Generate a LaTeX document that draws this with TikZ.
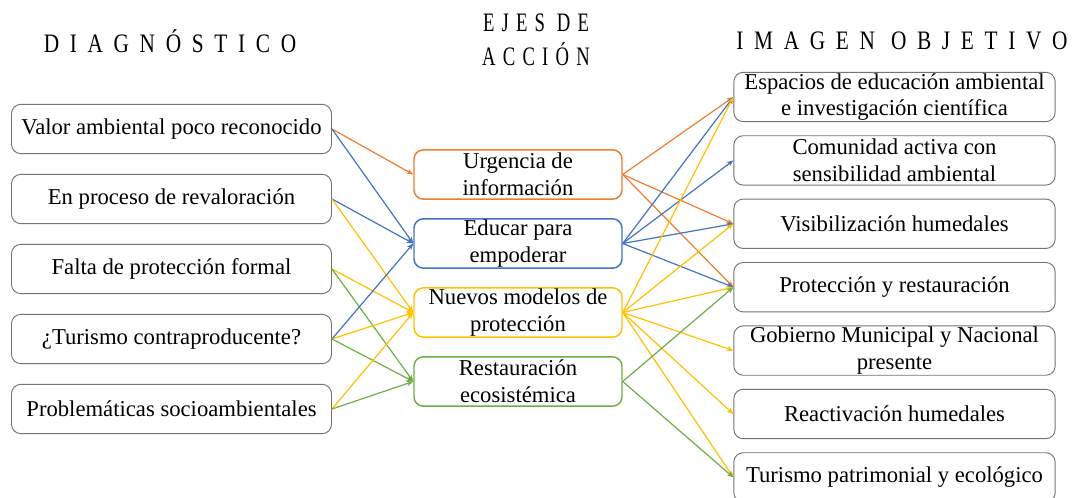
\documentclass[tikz,border=0pt]{standalone}
\usepackage{fontspec}
\setmainfont{Liberation Serif}
\newfontfamily\headfont[LetterSpace=40,FakeStretch=0.8]{Liberation Serif}
\newfontfamily\ejefont[LetterSpace=27,FakeStretch=0.7]{Liberation Serif}
\usetikzlibrary{arrows.meta}
\definecolor{naranja}{RGB}{237,125,49}
\definecolor{azul}{RGB}{68,114,196}
\definecolor{amarillo}{RGB}{255,192,0}
\definecolor{verde}{RGB}{112,173,71}
\begin{document}
\begin{tikzpicture}[x=0.75pt,y=-0.75pt,
	caja/.style={draw=black!55,line width=0.7pt,rounded corners=7pt,align=center,
		inner sep=0pt,font=\fontsize{17}{20}\selectfont},
	diag/.style={caja,minimum width=240pt,minimum height=37pt},
	eje/.style={caja,line width=1.1pt,minimum width=156pt,minimum height=37pt},
	meta/.style={caja,minimum width=241pt,minimum height=37pt},
	titulo/.style={align=center,font=\headfont\fontsize{20}{25.5}\selectfont},
	flecha/.style={line width=0.9pt,-{Stealth[length=5pt,width=4pt]}}]
	\useasboundingbox (0,0) rectangle (1077,498);
	% titulos
	\node[titulo] (T1) at (170,41) {DIAGNÓSTICO};
	\node[titulo] (T2) at (536,40) {\ejefont EJES DE\\\ejefont ACCIÓN};
	\node[titulo] (T3) at (902,41) {IMAGEN OBJETIVO};
	% diagnostico
	\node[diag] (D1) at (171.5,129) {Valor ambiental poco reconocido};
	\node[diag] (D2) at (171.5,199) {En proceso de revaloración};
	\node[diag] (D3) at (171.5,269) {Falta de protección formal};
	\node[diag] (D4) at (171.5,339) {¿Turismo contraproducente?};
	\node[diag] (D5) at (171.5,409) {Problemáticas socioambientales};
	% ejes de accion
	\node[eje,draw=naranja] (E1) at (518,174.5) {Urgencia de\\información};
	\node[eje,draw=azul] (E2) at (518,243.5) {Educar para\\empoderar};
	\node[eje,draw=amarillo] (E3) at (518,312.5) {Nuevos modelos de\\protección};
	\node[eje,draw=verde] (E4) at (518,381.5) {Restauración\\ecosistémica};
	% imagen objetivo
	\node[meta] (I1) at (894.5,97) {Espacios de educación ambiental\\e investigación científica};
	\node[meta] (I2) at (894.5,160.4) {Comunidad activa con\\sensibilidad ambiental};
	\node[meta] (I3) at (894.5,223.8) {Visibilización humedales};
	\node[meta] (I4) at (894.5,287.2) {Protección y restauración};
	\node[meta] (I5) at (894.5,350.6) {Gobierno Municipal y Nacional\\presente};
	\node[meta] (I6) at (894.5,414) {Reactivación humedales};
	\node[meta] (I7) at (894.5,477.4) {Turismo patrimonial y ecológico};
	% flechas de entrada
	\draw[flecha,naranja] (D1.east) -- (E1.west);
	\draw[flecha,azul] (D1.east) -- (E2.west);
	\draw[flecha,azul] (D2.east) -- (E2.west);
	\draw[flecha,amarillo] (D2.east) -- (E3.west);
	\draw[flecha,amarillo] (D3.east) -- (E3.west);
	\draw[flecha,verde] (D3.east) -- (E4.west);
	\draw[flecha,azul] (D4.east) -- (E2.west);
	\draw[flecha,amarillo] (D4.east) -- (E3.west);
	\draw[flecha,verde] (D4.east) -- (E4.west);
	\draw[flecha,amarillo] (D5.east) -- (E3.west);
	\draw[flecha,verde] (D5.east) -- (E4.west);
	% flechas de salida
	\draw[flecha,naranja] (E1.east) -- (I1.west);
	\draw[flecha,naranja] (E1.east) -- (I3.west);
	\draw[flecha,naranja] (E1.east) -- (I4.west);
	\draw[flecha,azul] (E2.east) -- (I1.west);
	\draw[flecha,azul] (E2.east) -- (I2.west);
	\draw[flecha,azul] (E2.east) -- (I3.west);
	\draw[flecha,azul] (E2.east) -- (I4.west);
	\draw[flecha,amarillo] (E3.east) -- (I1.west);
	\draw[flecha,amarillo] (E3.east) -- (I3.west);
	\draw[flecha,amarillo] (E3.east) -- (I4.west);
	\draw[flecha,amarillo] (E3.east) -- (I5.west);
	\draw[flecha,amarillo] (E3.east) -- (I6.west);
	\draw[flecha,amarillo] (E3.east) -- (I7.west);
	\draw[flecha,verde] (E4.east) -- (I4.west);
	\draw[flecha,verde] (E4.east) -- (I7.west);
\end{tikzpicture}
\end{document}
